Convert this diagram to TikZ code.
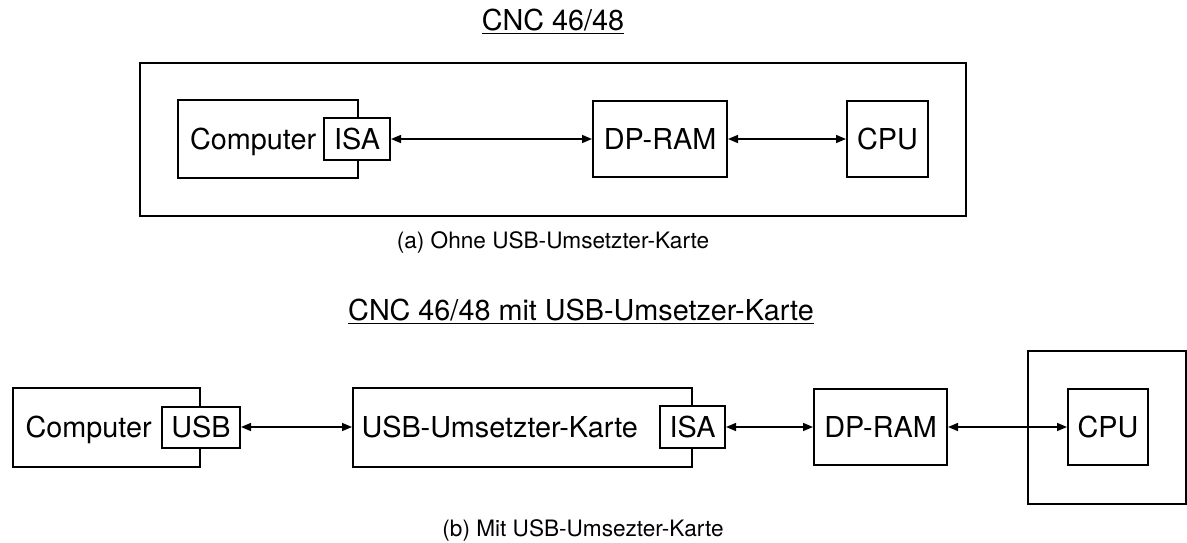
\documentclass[tikz,border=0pt]{standalone}
\usepackage{fontspec}
\setmainfont{TeX Gyre Heros}
\usetikzlibrary{arrows.meta}

\begin{document}
\begin{tikzpicture}[
  x=0.5pt, y=-0.5pt,
  box/.style={draw, line width=1pt, inner sep=0pt, text depth=0pt, font=\fontsize{14.4}{16}\selectfont},
  port/.style={box, fill=white, minimum width=33pt, minimum height=21pt},
  conn/.style={{Triangle[length=5pt,width=4pt]}-{Triangle[length=5pt,width=4pt]}, line width=0.75pt},
  heading/.style={font=\fontsize{14.4}{16}\selectfont},
  caption/.style={font=\fontsize{11.3}{13}\selectfont}]
\useasboundingbox (0,0) rectangle (1187,542);

% (a) ohne Umsetzer
\node[heading] (titleA) at (553,22) {\underline{CNC 46/48}};
\node[box, minimum width=413pt, minimum height=76.5pt] (cncA) at (553,139.5) {};
\node[box, minimum width=90pt, minimum height=39pt, text width=78pt, align=left] (compA) at (268,139) {Computer};
\node[port] (isaA) at (357,139) {ISA};
\node[box, minimum width=67pt, minimum height=38pt] (ramA) at (660,139) {DP-RAM};
\node[box, minimum width=40.5pt, minimum height=38pt] (cpuA) at (887.5,139) {CPU};
\draw[conn] (isaA) -- (ramA);
\draw[conn] (ramA) -- (cpuA);
\node[caption] (capA) at (553,242) {(a) Ohne USB-Umsetzter-Karte};

% (b) mit Umsetzer
\node[heading] (titleB) at (581,312) {\underline{CNC 46/48 mit USB-Umsetzer-Karte}};
\node[box, minimum width=93.5pt, minimum height=39.5pt, text width=81pt, align=left] (compB) at (106.5,427) {Computer};
\node[port, minimum width=39pt, minimum height=20.5pt] (usbB) at (201,427) {USB};
\node[box, minimum width=169.5pt, minimum height=39.5pt, text width=161pt, align=left] (convB) at (522.5,427) {USB-Umsetzter-Karte};
\node[port, minimum width=32.5pt] (isaB) at (692.5,427) {ISA};
\node[box, minimum width=66.5pt, minimum height=38pt] (ramB) at (880.5,427) {DP-RAM};
\node[box, minimum width=79pt, minimum height=76.5pt] (cncB) at (1107,427.5) {};
\node[box, minimum width=40pt, minimum height=38pt] (cpuB) at (1108,427) {CPU};
\draw[conn] (usbB) -- (convB);
\draw[conn] (isaB) -- (ramB);
\draw[conn] (ramB) -- (cpuB);
\node[caption] (capB) at (583,530) {(b) Mit USB-Umsezter-Karte};
\end{tikzpicture}
\end{document}
